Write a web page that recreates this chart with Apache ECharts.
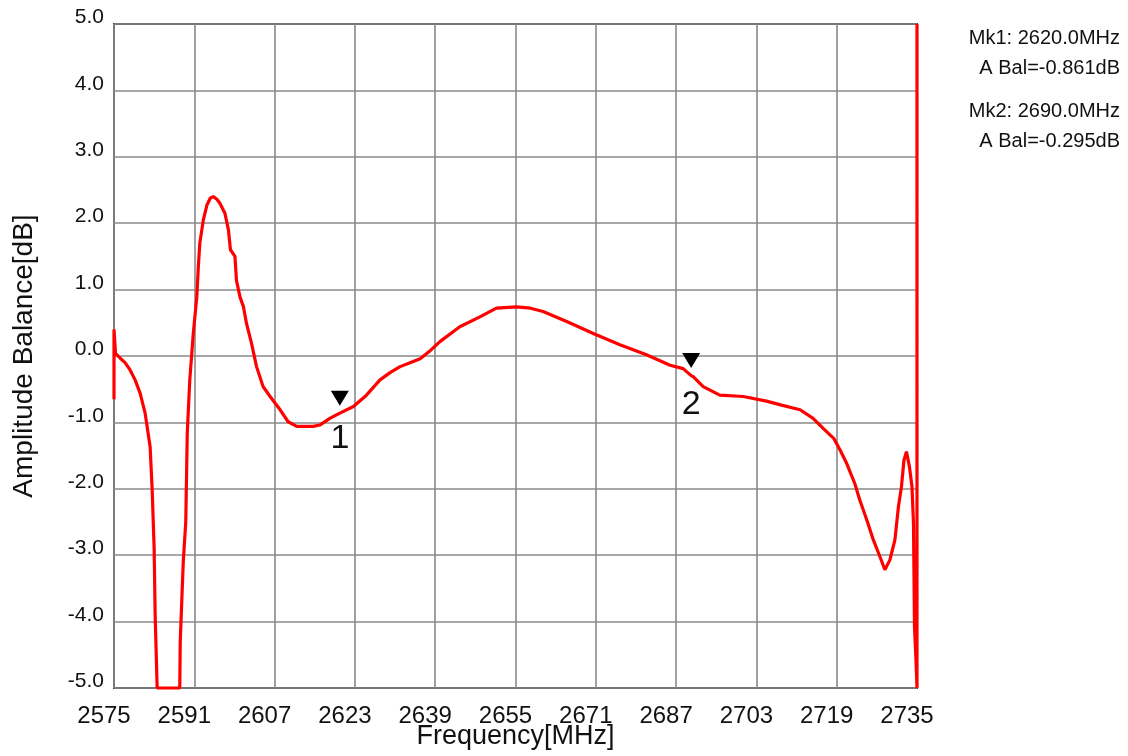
<!DOCTYPE html>
<html><head><meta charset="utf-8">
<script src="https://cdn.jsdelivr.net/npm/echarts@6/dist/echarts.min.js"></script>
<style>html,body{margin:0;padding:0;background:#fff}#c{width:1128px;height:756px}</style>
</head><body><div id="c"></div>
<script>
const F0 = 2575;
const xTickLabels = ['2575','2591','2607','2623','2639','2655','2671','2687','2703','2719','2735'];
const yTickLabels = ['-5.0','-4.0','-3.0','-2.0','-1.0','0.0','1.0','2.0','3.0','4.0','5.0'];
const freq = [2575.0,2575.0,2575.3,2576.2,2577.2,2578.2,2579.2,2580.2,2581.2,2582.2,2582.6,2583.0,2583.2,2583.6,
  2588.1,2588.2,2588.5,2588.8,2589.3,2589.6,2590.1,2590.8,2591.5,2591.8,2592.1,2592.8,2593.5,2594.2,2594.8,2595.5,2596.1,
  2597.1,2597.8,2598.2,2599.1,2599.4,2600.1,2600.8,2601.4,2602.4,2603.4,2604.7,2606.1,2608.1,2609.7,2611.4,2614.7,2616.0,
  2618.0,2620.0,2622.7,2625.3,2628.0,2630.0,2632.0,2634.0,2636.0,2638.0,2640.0,2643.9,2647.9,2651.2,2655.2,2658.0,2660.5,2665.2,2670.5,2675.8,
  2681.1,2685.8,2688.4,2690.0,2690.4,2692.4,2695.7,2700.4,2705.0,2708.0,2711.7,2714.3,2716.3,2718.4,2719.7,2721.0,2722.6,
  2723.6,2725.0,2726.3,2727.6,2728.6,2729.6,2730.6,2731.3,2731.9,2732.4,2732.9,2733.5,2734.0,2734.3,2734.5,2734.8,2735.0,2735.0];
const balance = [-0.65,0.40,0.04,-0.03,-0.10,-0.21,-0.36,-0.56,-0.86,-1.37,-2.0,-2.9,-3.9,-5.0,
  -5.0,-4.3,-3.7,-3.1,-2.5,-1.16,-0.36,0.34,0.89,1.34,1.70,2.05,2.27,2.38,2.40,2.36,2.30,
  2.15,1.90,1.60,1.50,1.14,0.89,0.74,0.49,0.19,-0.16,-0.46,-0.61,-0.81,-0.99,-1.06,-1.06,-1.04,
  -0.94,-0.861,-0.76,-0.59,-0.36,-0.25,-0.16,-0.10,-0.04,0.08,0.22,0.44,0.59,0.72,0.74,0.72,0.67,0.52,0.34,0.17,
  0.02,-0.14,-0.19,-0.295,-0.31,-0.46,-0.59,-0.61,-0.68,-0.74,-0.81,-0.94,-1.09,-1.24,-1.42,-1.62,-1.92,
  -2.17,-2.47,-2.77,-3.02,-3.22,-3.07,-2.77,-2.27,-1.97,-1.57,-1.44,-1.67,-1.97,-2.52,-4.08,-4.58,-5.0,5.0];
const markerNames = ['1','2'];
const markerFreq = [2620.0, 2690.0];
const markerVal = [-0.861, -0.295];
const markerText = ['Mk1: 2620.0MHz','A Bal=-0.861dB','Mk2: 2690.0MHz','A Bal=-0.295dB'];

const FONT = '"Liberation Sans", Arial, sans-serif';
const chart = echarts.init(document.getElementById('c'), null, {renderer:'canvas'});
const data = freq.map((f,i)=>[f-F0, balance[i]]);
const labelOffsets = [40, 44];
chart.setOption({
  animation:false,
  backgroundColor:'#fff',
  grid:{left:114, top:24, right:211, bottom:68, show:true, borderColor:'#404040', borderWidth:2,
    backgroundColor:'transparent', containLabel:false, outerBoundsMode:'none'},
  xAxis:{type:'value', min:0, max:160, interval:16,
    axisLine:{show:false}, axisTick:{show:false},
    splitLine:{show:true, lineStyle:{color:'#8a8a8a', width:1.6}},
    axisLabel:{fontFamily:FONT, fontSize:24, color:'#111', margin:16, padding:[0,20,0,0],
      formatter:(v)=>xTickLabels[Math.round(v/16)]},
    name:'Frequency[MHz]', nameLocation:'middle', nameGap:35, nameMoveOverlap:false,
    nameTextStyle:{fontFamily:FONT, fontSize:27, color:'#111'}},
  yAxis:{type:'value', min:-5, max:5, interval:1,
    axisLine:{show:false}, axisTick:{show:false},
    splitLine:{show:true, lineStyle:{color:'#8a8a8a', width:1.6}},
    axisLabel:{fontFamily:FONT, fontSize:21, color:'#111', margin:10, verticalAlign:'bottom', lineHeight:13,
      formatter:(v)=>yTickLabels[Math.round(v+5)]},
    name:'Amplitude Balance[dB]', nameLocation:'middle', nameGap:76, nameRotate:90, nameMoveOverlap:false,
    nameTextStyle:{fontFamily:FONT, fontSize:28, color:'#111'}},
  series:[{
    type:'line', data:data, showSymbol:false, clip:false, smooth:false,
    lineStyle:{color:'#ff0000', width:3.2}, itemStyle:{color:'#ff0000'},
    markPoint:{
      symbol:'triangle', symbolRotate:180, symbolSize:[18,15], symbolOffset:[0,-15],
      itemStyle:{color:'#000'},
      data: markerNames.map((n,i)=>({name:n, coord:[markerFreq[i]-F0, markerVal[i]],
        label:{show:true, formatter:n, position:'inside', offset:[0,labelOffsets[i]],
          fontFamily:FONT, fontSize:34, color:'#111'}}))
    }
  }],
  graphic:[
    {type:'text', right:8, top:28, style:{text:markerText[0], font:'20px '+FONT, fill:'#111', textAlign:'right'}},
    {type:'text', right:8, top:58, style:{text:markerText[1], font:'20px '+FONT, fill:'#111', textAlign:'right'}},
    {type:'text', right:8, top:101, style:{text:markerText[2], font:'20px '+FONT, fill:'#111', textAlign:'right'}},
    {type:'text', right:8, top:131, style:{text:markerText[3], font:'20px '+FONT, fill:'#111', textAlign:'right'}}
  ]
});
</script></body></html>
